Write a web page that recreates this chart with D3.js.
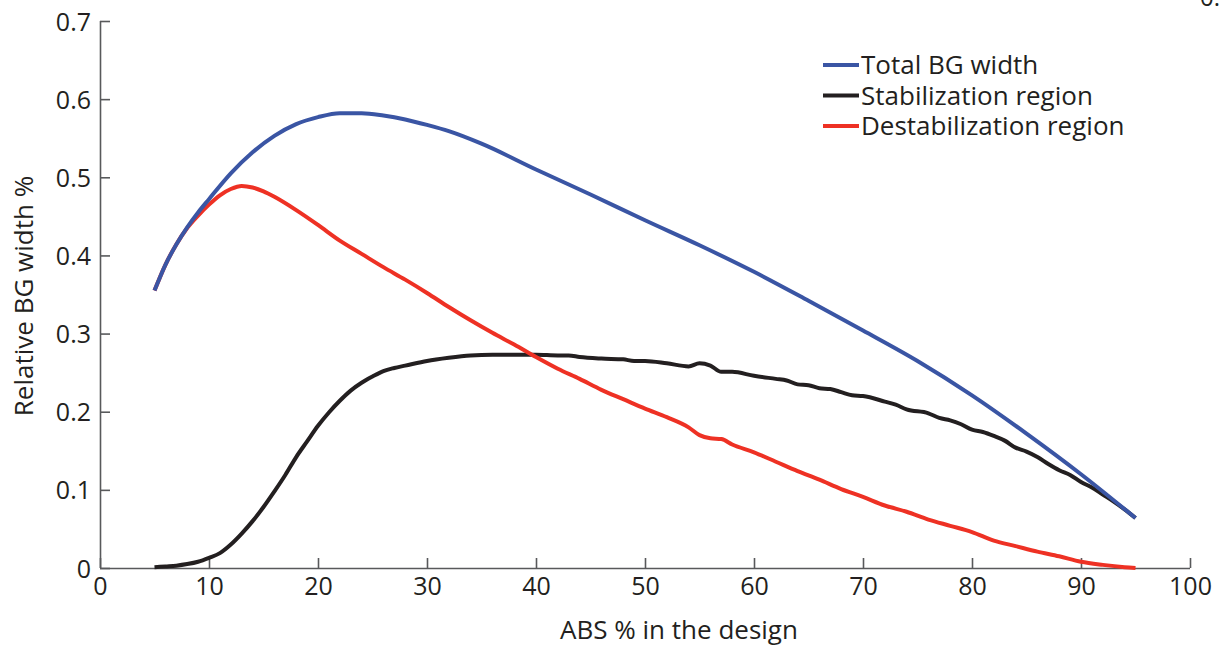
<!DOCTYPE html>
<html>
<head>
<meta charset="utf-8">
<script src="https://cdn.jsdelivr.net/npm/d3@7"></script>
<style>
  html, body { margin: 0; padding: 0; background: #fff; }
  svg { display: block; }
  text { font-family: "Open Sans", "Noto Sans", sans-serif; fill: #231f20; }
</style>
</head>
<body>
<svg id="chart" width="1226" height="650"></svg>
<script>
// ---- data ----
const xTicks = [0, 10, 20, 30, 40, 50, 60, 70, 80, 90, 100];
const yTicks = [0, 0.1, 0.2, 0.3, 0.4, 0.5, 0.6, 0.7];
const yTickLabels = ["0", "0.1", "0.2", "0.3", "0.4", "0.5", "0.6", "0.7"];
const seriesNames = ["Total BG width", "Stabilization region", "Destabilization region"];
const seriesColors = ["#3a55a4", "#231f20", "#ee3124"];

const totalX = [5, 6, 7, 8, 9, 10, 12, 14, 16, 18, 20, 22, 24, 26, 28, 30, 32, 35, 40, 45, 50, 55, 60, 65, 70, 75, 80, 85, 90, 95];
const totalY = [0.355, 0.388, 0.414, 0.436, 0.455, 0.472, 0.505, 0.532, 0.553, 0.568, 0.577, 0.582, 0.582, 0.579, 0.574, 0.567, 0.559, 0.543, 0.510, 0.478, 0.445, 0.413, 0.379, 0.342, 0.304, 0.265, 0.221, 0.172, 0.120, 0.064];

const stabX = [5, 6, 7, 8, 9, 10, 11, 12, 13, 14, 15, 16, 17, 18, 19, 20, 21, 22, 23, 24, 25, 26, 27, 28, 30, 32, 34, 36, 38, 40, 42, 43, 44, 46, 48, 49, 50, 52, 54, 55, 56, 57, 58, 60, 62, 63, 64, 65, 66, 67, 68, 69, 70, 72, 73, 74, 76, 77, 78, 79, 80, 81, 82, 83, 84, 85, 86, 87, 88, 89, 90, 91, 92, 93, 94, 95];
const stabY = [0.001, 0.002, 0.003, 0.005, 0.008, 0.013, 0.019, 0.030, 0.044, 0.060, 0.078, 0.098, 0.119, 0.142, 0.162, 0.182, 0.199, 0.214, 0.227, 0.237, 0.245, 0.252, 0.256, 0.259, 0.265, 0.269, 0.272, 0.273, 0.273, 0.273, 0.272, 0.272, 0.270, 0.268, 0.267, 0.265, 0.265, 0.262, 0.258, 0.262, 0.259, 0.251, 0.251, 0.246, 0.242, 0.240, 0.235, 0.234, 0.230, 0.229, 0.225, 0.221, 0.220, 0.213, 0.209, 0.203, 0.198, 0.192, 0.189, 0.184, 0.177, 0.174, 0.169, 0.163, 0.154, 0.149, 0.142, 0.133, 0.125, 0.119, 0.110, 0.103, 0.094, 0.085, 0.075, 0.064];

const destabX = [5, 6, 7, 8, 9, 10, 11, 12, 13, 14, 15, 16, 18, 20, 22, 24, 26, 28, 30, 32, 34, 36, 38, 40, 42, 44, 46, 48, 50, 52, 54, 55, 56, 57, 58, 60, 62, 64, 66, 68, 70, 72, 74, 76, 78, 80, 82, 84, 86, 88, 90, 92, 94, 95];
const destabY = [0.355, 0.388, 0.414, 0.435, 0.451, 0.465, 0.477, 0.485, 0.489, 0.487, 0.482, 0.475, 0.458, 0.439, 0.419, 0.402, 0.385, 0.369, 0.352, 0.334, 0.317, 0.301, 0.286, 0.270, 0.255, 0.242, 0.228, 0.216, 0.204, 0.193, 0.180, 0.170, 0.166, 0.165, 0.158, 0.148, 0.136, 0.124, 0.113, 0.101, 0.091, 0.080, 0.072, 0.062, 0.054, 0.046, 0.035, 0.028, 0.021, 0.015, 0.008, 0.004, 0.001, 0.0];

const xTitle = "ABS % in the design";
const yTitle = "Relative BG width %";

// ---- drawing ----
const svg = d3.select("#chart");
const x = d3.scaleLinear().domain([0, 100]).range([100, 1190]);
const y = d3.scaleLinear().domain([0, 0.7]).range([568, 21]);
const axisColor = "#58595b";

// axes
const gx = svg.append("g").attr("transform", `translate(0,${y(0)})`)
  .call(d3.axisBottom(x).tickValues(xTicks).tickSize(-10).tickPadding(14).tickFormat(d3.format("d")));
const gy = svg.append("g").attr("transform", `translate(${x(0)},0)`)
  .call(d3.axisLeft(y).tickValues(yTicks).tickSize(-10).tickPadding(9).tickFormat((d, i) => yTickLabels[i]));
[gx, gy].forEach(g => {
  g.select(".domain").attr("stroke", axisColor).attr("stroke-width", 1.6);
  g.selectAll(".tick line").attr("stroke", axisColor).attr("stroke-width", 1.6);
  g.selectAll(".tick text").attr("font-size", 25).attr("fill", "#231f20")
    .attr("font-family", '"Open Sans", sans-serif');
});
gx.select(".domain").attr("d", `M${x(0)},0.5H${x(100)}`);
gy.select(".domain").attr("d", `M0.5,${y(0)}V${y(0.7)}`);
gx.selectAll(".tick text").attr("dy", "0.71em").attr("y", 9);
gy.selectAll(".tick text").attr("dy", "0.36em");

// lines
const line = d3.line().x(d => x(d[0])).y(d => y(d[1])).curve(d3.curveMonotoneX);
const series = [
  d3.zip(totalX, totalY),
  d3.zip(stabX, stabY),
  d3.zip(destabX, destabY)
];
const drawOrder = [1, 2, 0];
drawOrder.forEach(i => {
  svg.append("path").datum(series[i])
    .attr("fill", "none")
    .attr("stroke", seriesColors[i])
    .attr("stroke-width", 4)
    .attr("stroke-linejoin", "round")
    .attr("d", line);
});

// titles
svg.append("text").attr("x", 679).attr("y", 639).attr("text-anchor", "middle")
  .attr("font-size", 26).text(xTitle);
svg.append("text").attr("transform", "translate(33,296) rotate(-90)").attr("text-anchor", "middle")
  .attr("font-size", 26).text(yTitle);

// legend
const leg = svg.append("g");
seriesNames.forEach((name, i) => {
  const ly = 65 + i * 30.5;
  leg.append("line").attr("x1", 823).attr("x2", 859).attr("y1", ly).attr("y2", ly)
    .attr("stroke", seriesColors[i]).attr("stroke-width", 4);
  leg.append("text").attr("x", 861).attr("y", ly + 9).attr("font-size", 26).text(name);
});

// stray clipped label at top-right of the figure (cut off in the reference too)
svg.append("text").attr("x", 1200).attr("y", 6).attr("font-size", 24).text("0.");
</script>
</body>
</html>
